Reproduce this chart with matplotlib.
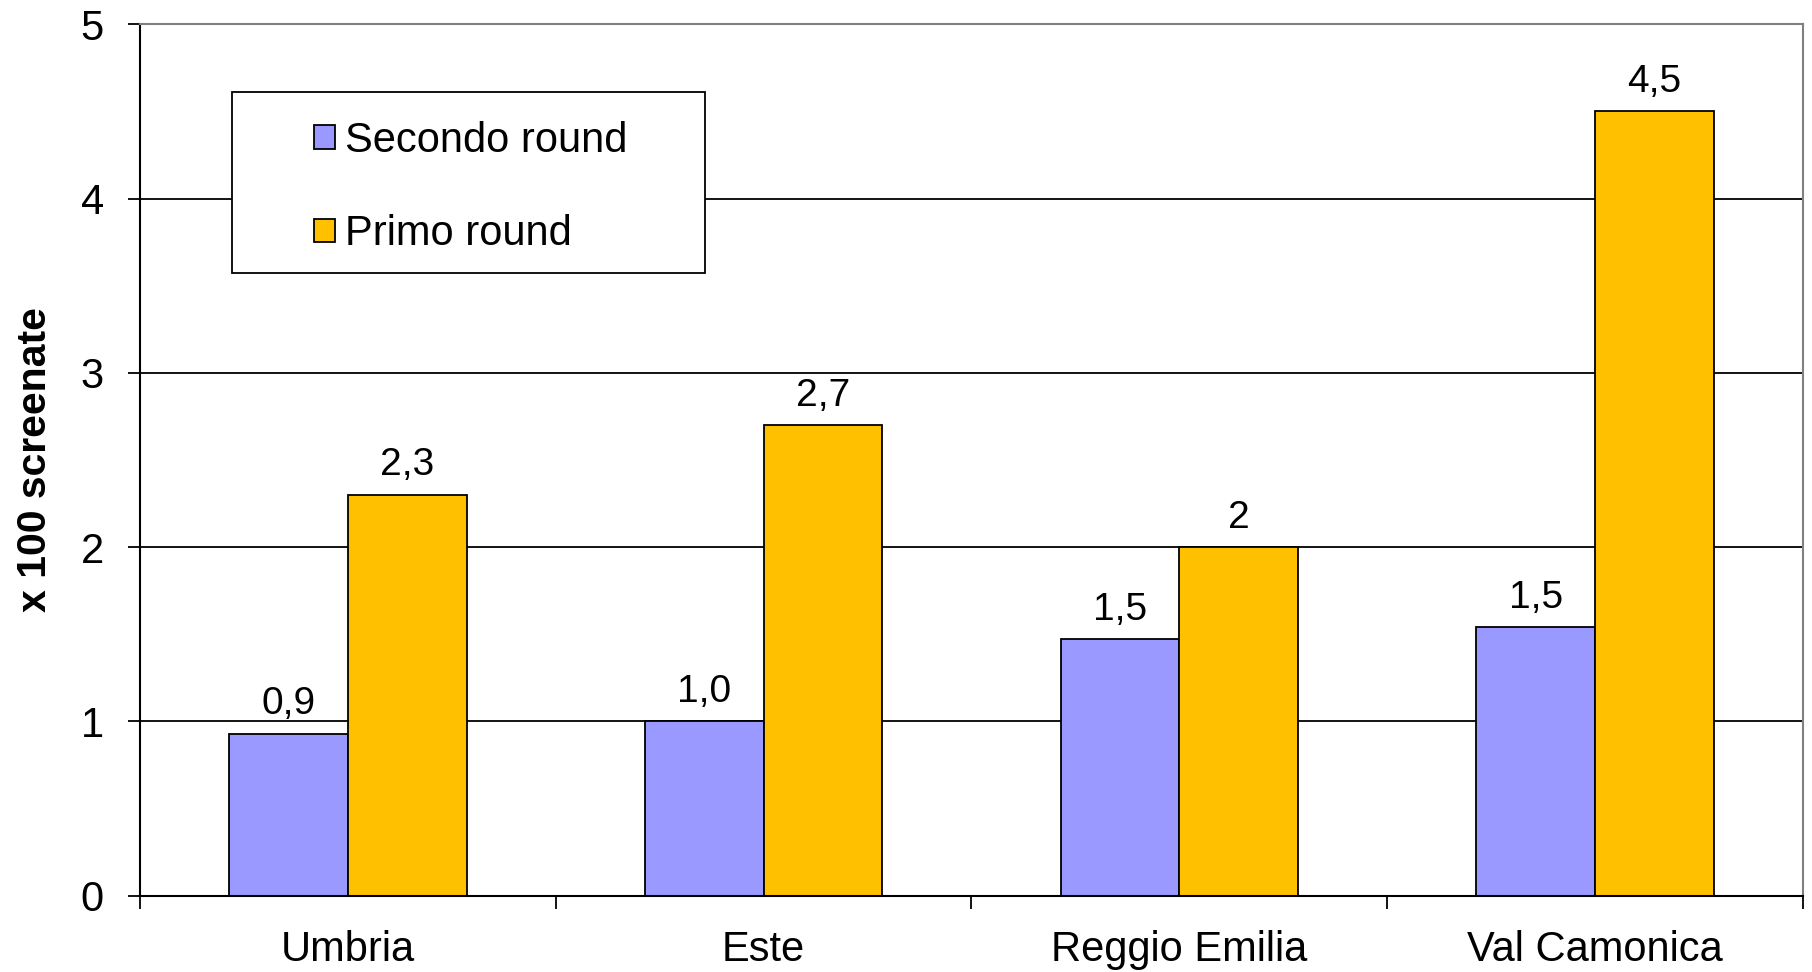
import matplotlib
matplotlib.use("Agg")
import matplotlib.pyplot as plt
from matplotlib.patches import Rectangle
import numpy as np

categories = ["Umbria", "Este", "Reggio Emilia", "Val Camonica"]
secondo = [0.93, 1.0, 1.47, 1.54]
primo = [2.3, 2.7, 2.0, 4.5]
secondo_labels = ["0,9", "1,0", "1,5", "1,5"]
primo_labels = ["2,3", "2,7", "2", "4,5"]
series_names = ["Secondo round", "Primo round"]
yticks = [0, 1, 2, 3, 4, 5]
ylabel = "x 100 screenate"

plt.rcParams['font.family'] = ['Liberation Sans', 'DejaVu Sans']

fig = plt.figure(figsize=(18.12, 9.72), dpi=100)
ax = fig.add_axes([140/1812, 1-895.6/972, 1663/1812, 871.3/972])

x = np.arange(len(categories))
w = 1/3.5
b1 = ax.bar(x - w/2, secondo, w, color="#9999FF", edgecolor="black", linewidth=1.3, zorder=2, label=series_names[0])
b2 = ax.bar(x + w/2, primo, w, color="#FFC000", edgecolor="black", linewidth=1.3, zorder=2, label=series_names[1])

for bars, labs in ((b1, secondo_labels), (b2, primo_labels)):
    for r, t in zip(bars, labs):
        ax.annotate(t, (r.get_x() + r.get_width()/2, r.get_height()), xytext=(0, 14),
                    textcoords="offset points", ha="center", va="baseline", fontsize=28)

ax.set_xlim(-0.5, len(categories) - 0.5)
ax.set_ylim(0, 5)
ax.set_yticks(yticks)
ax.set_yticklabels([str(v) for v in yticks], fontsize=30)
ax.set_xticks(x)
ax.set_xticklabels(categories, fontsize=30)
ax.set_xticks(np.arange(-0.5, len(categories)), minor=True)
ax.tick_params(axis='x', which='major', length=0, pad=25)
ax.tick_params(axis='x', which='minor', length=9, width=1.3, direction='out')
ax.tick_params(axis='y', which='major', length=9, width=1.3, direction='out', pad=17)

ax.yaxis.grid(True, color="black", linewidth=1.3, zorder=0)
ax.set_axisbelow(True)

for s in ("left", "bottom"):
    ax.spines[s].set_color("black")
    ax.spines[s].set_linewidth(1.5)
for s in ("top", "right"):
    ax.spines[s].set_color("#808080")
    ax.spines[s].set_linewidth(1.5)

ax.set_ylabel(ylabel, fontsize=29.5, fontweight="bold")
ax.yaxis.set_label_coords(-0.052, 0.5)

frame = Rectangle((0.0553, 0.7146), 0.2845, 0.2077, transform=ax.transAxes,
                  facecolor="white", edgecolor="black", linewidth=1.3, zorder=3)
ax.add_patch(frame)
leg = ax.legend(handles=[b1, b2], loc="center left", bbox_to_anchor=(0.1046, 0.8125),
                frameon=False, fontsize=30, borderpad=0, borderaxespad=0,
                handlelength=0.5, handleheight=0.5, handletextpad=0.25, labelspacing=1.28)
leg.set_zorder(4)

fig.savefig("out.png", dpi=100)
